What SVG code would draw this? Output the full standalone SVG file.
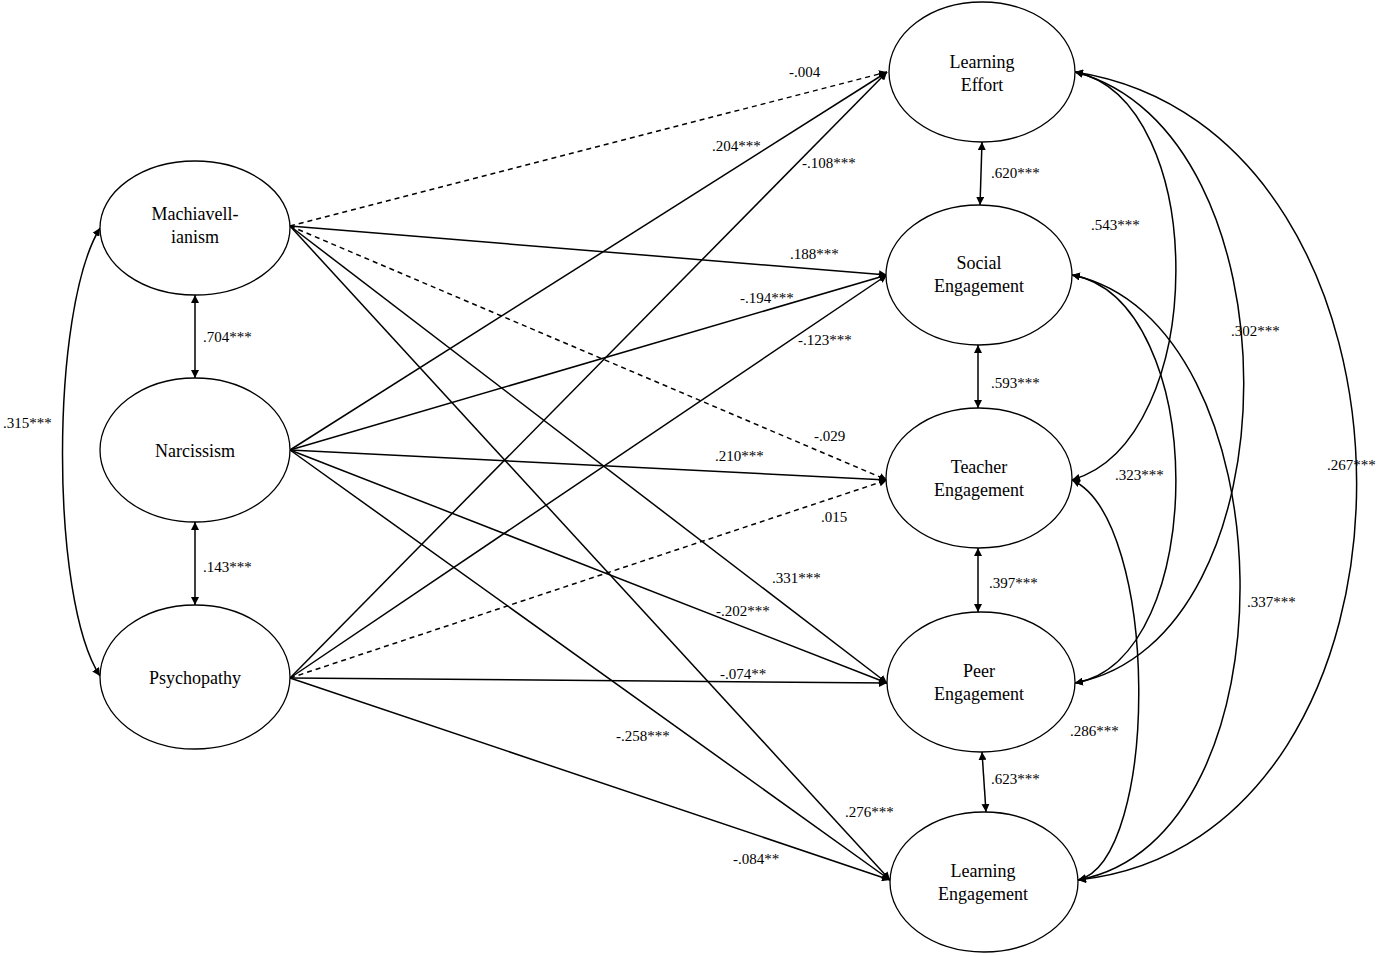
<svg xmlns="http://www.w3.org/2000/svg" width="1386" height="956" viewBox="0 0 1386 956">
<style>
.n{fill:#fff;stroke:#000;stroke-width:1.3}
.t{font-family:"Liberation Serif",serif;font-size:18px;text-anchor:middle;fill:#000}
.l{font-family:"Liberation Serif",serif;font-size:15px;fill:#000}
.c{fill:none;stroke:#000;stroke-width:1.5}
.d{stroke-dasharray:5,4}
</style>
<defs>
<marker id="a" viewBox="0 0 10 10" refX="10" refY="5" markerWidth="8" markerHeight="8" orient="auto-start-reverse" markerUnits="userSpaceOnUse"><path d="M0,0L10,5L0,10z" fill="#000"/></marker>
</defs>
<rect width="1386" height="956" fill="#fff"/>
<g id="connectors">
<line class="c d" x1="290" y1="226" x2="887" y2="72" marker-end="url(#a)"/>
<line class="c" x1="290" y1="226" x2="887" y2="275" marker-end="url(#a)"/>
<line class="c d" x1="290" y1="226" x2="887" y2="480" marker-end="url(#a)"/>
<line class="c" x1="290" y1="226" x2="887" y2="683" marker-end="url(#a)"/>
<line class="c" x1="290" y1="226" x2="890" y2="880" marker-end="url(#a)"/>
<line class="c" x1="290" y1="450" x2="887" y2="72" marker-end="url(#a)"/>
<line class="c" x1="290" y1="450" x2="887" y2="275" marker-end="url(#a)"/>
<line class="c" x1="290" y1="450" x2="887" y2="480" marker-end="url(#a)"/>
<line class="c" x1="290" y1="450" x2="887" y2="683" marker-end="url(#a)"/>
<line class="c" x1="290" y1="450" x2="890" y2="880" marker-end="url(#a)"/>
<line class="c" x1="290" y1="678" x2="887" y2="72" marker-end="url(#a)"/>
<line class="c" x1="290" y1="678" x2="887" y2="275" marker-end="url(#a)"/>
<line class="c d" x1="290" y1="678" x2="887" y2="480" marker-end="url(#a)"/>
<line class="c" x1="290" y1="678" x2="887" y2="683" marker-end="url(#a)"/>
<line class="c" x1="290" y1="678" x2="890" y2="880" marker-end="url(#a)"/>
<line class="c" x1="195" y1="295" x2="195" y2="378" marker-start="url(#a)" marker-end="url(#a)"/>
<line class="c" x1="195" y1="522" x2="195" y2="605" marker-start="url(#a)" marker-end="url(#a)"/>
<path class="c" d="M100,228 C50,310 50,600 100,676" marker-start="url(#a)" marker-end="url(#a)"/>
<line class="c" x1="982" y1="142" x2="980" y2="205" marker-start="url(#a)" marker-end="url(#a)"/>
<line class="c" x1="978" y1="345" x2="978" y2="408" marker-start="url(#a)" marker-end="url(#a)"/>
<line class="c" x1="978" y1="548" x2="978" y2="612" marker-start="url(#a)" marker-end="url(#a)"/>
<line class="c" x1="982" y1="752" x2="986" y2="812" marker-start="url(#a)" marker-end="url(#a)"/>
<path class="c" d="M1075,72 C1210,100 1210,440 1072,480" marker-start="url(#a)" marker-end="url(#a)"/>
<path class="c" d="M1075,72 C1300,130 1300,640 1075,683" marker-start="url(#a)" marker-end="url(#a)"/>
<path class="c" d="M1075,72 C1450,130 1450,840 1078,880" marker-start="url(#a)" marker-end="url(#a)"/>
<path class="c" d="M1072,275 C1210,300 1210,660 1075,683" marker-start="url(#a)" marker-end="url(#a)"/>
<path class="c" d="M1072,275 C1290,320 1300,840 1078,880" marker-start="url(#a)" marker-end="url(#a)"/>
<path class="c" d="M1072,480 C1160,520 1160,860 1078,880" marker-start="url(#a)" marker-end="url(#a)"/>
</g>
<g id="mach"><ellipse class="n" cx="195" cy="228" rx="95" ry="67"/><text class="t" x="195" y="220">Machiavell-</text><text class="t" x="195" y="243">ianism</text></g>
<g id="narc"><ellipse class="n" cx="195" cy="450" rx="95" ry="72"/><text class="t" x="195" y="457">Narcissism</text></g>
<g id="psych"><ellipse class="n" cx="195" cy="677" rx="95" ry="72"/><text class="t" x="195" y="684">Psychopathy</text></g>
<g id="le"><ellipse class="n" cx="982" cy="72" rx="93" ry="70"/><text class="t" x="982" y="68">Learning</text><text class="t" x="982" y="91">Effort</text></g>
<g id="se"><ellipse class="n" cx="979" cy="275" rx="93" ry="70"/><text class="t" x="979" y="269">Social</text><text class="t" x="979" y="292">Engagement</text></g>
<g id="te"><ellipse class="n" cx="979" cy="478" rx="93" ry="70"/><text class="t" x="979" y="473">Teacher</text><text class="t" x="979" y="496">Engagement</text></g>
<g id="pe"><ellipse class="n" cx="981" cy="682" rx="94" ry="70"/><text class="t" x="979" y="677">Peer</text><text class="t" x="979" y="700">Engagement</text></g>
<g id="leng"><ellipse class="n" cx="984" cy="882" rx="94" ry="70"/><text class="t" x="983" y="877">Learning</text><text class="t" x="983" y="900">Engagement</text></g>
<g id="labels">
<text class="l" x="789" y="77">-.004</text>
<text class="l" x="712" y="151">.204***</text>
<text class="l" x="802" y="168">-.108***</text>
<text class="l" x="790" y="259">.188***</text>
<text class="l" x="740" y="303">-.194***</text>
<text class="l" x="798" y="345">-.123***</text>
<text class="l" x="814" y="441">-.029</text>
<text class="l" x="715" y="461">.210***</text>
<text class="l" x="821" y="522">.015</text>
<text class="l" x="772" y="583">.331***</text>
<text class="l" x="716" y="616">-.202***</text>
<text class="l" x="720" y="679">-.074**</text>
<text class="l" x="616" y="741">-.258***</text>
<text class="l" x="845" y="817">.276***</text>
<text class="l" x="733" y="864">-.084**</text>
<text class="l" x="203" y="342">.704***</text>
<text class="l" x="203" y="572">.143***</text>
<text class="l" x="3" y="428">.315***</text>
<text class="l" x="991" y="178">.620***</text>
<text class="l" x="991" y="388">.593***</text>
<text class="l" x="989" y="588">.397***</text>
<text class="l" x="991" y="784">.623***</text>
<text class="l" x="1091" y="230">.543***</text>
<text class="l" x="1231" y="336">.302***</text>
<text class="l" x="1115" y="480">.323***</text>
<text class="l" x="1327" y="470">.267***</text>
<text class="l" x="1247" y="607">.337***</text>
<text class="l" x="1070" y="736">.286***</text>
</g>
</svg>
